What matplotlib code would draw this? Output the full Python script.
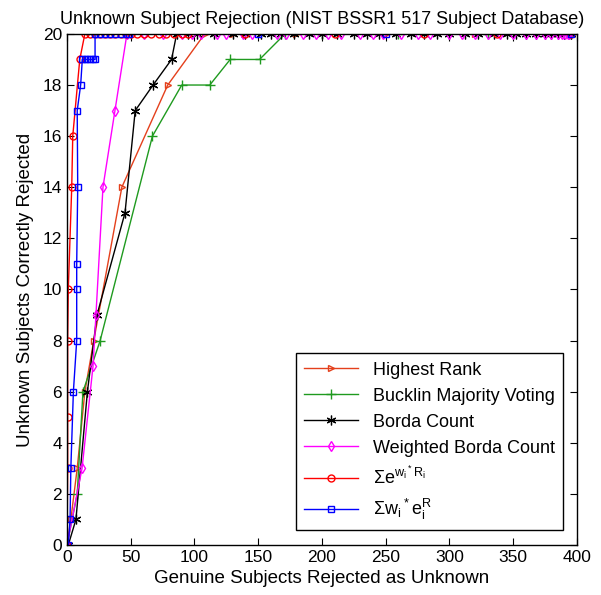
import matplotlib
matplotlib.use('Agg')
import matplotlib.pyplot as plt

plt.rcParams['font.family'] = ['Liberation Sans', 'DejaVu Sans']
plt.rcParams['mathtext.default'] = 'regular'

# x = genuine subjects rejected, y = unknown subjects correctly rejected
hr_x = [0, 3, 8, 14, 21, 43, 79, 108, 130, 180, 250, 320, 395]
hr_y = [0, 1, 3, 6, 8, 14, 18, 20, 20, 20, 20, 20, 20]

bk_x = [0, 8, 12.5, 26, 67, 90, 112, 128, 151, 171, 200, 260, 330, 395]
bk_y = [0, 2, 6, 8, 16, 18, 18, 19, 19, 20, 20, 20, 20, 20]

bc_x = [1, 7, 16, 23.5, 45.5, 53.5, 67.5, 82, 86, 95, 102, 115, 130, 140, 152,
        160, 168, 178, 190, 200, 212, 225, 235, 245, 258, 270, 280, 290, 300,
        312, 322, 335, 345, 352, 360, 368, 375, 380, 385, 390, 395]
bc_y = [0, 1, 6, 9, 13, 17, 18, 19] + [20] * 33

wb_x = [0, 11.8, 20.4, 22.7, 28.2, 37.6, 47, 60, 75, 90, 98, 105, 118, 125,
        138, 145, 165, 172, 185, 195, 205, 215, 230, 240, 248, 262, 275, 285,
        300, 310, 320, 330, 340, 350, 360, 368, 375, 380, 385, 388, 391, 393,
        394]
wb_y = [0, 3, 7, 9, 14, 17] + [20] * 37

ew_x = [0, 0.5, 0.5, 0.5, 1, 3.7, 4.5, 10, 14, 18, 22, 26, 30, 34, 38, 42, 46,
        50, 55, 60, 66, 72, 78, 84, 90, 95, 140, 210, 280, 337, 395]
ew_y = [0, 3, 5, 8, 10, 14, 16, 19] + [20] * 23

we_x = [1, 2.4, 3, 5, 7.6, 7.6, 7.6, 8.4, 8, 10.7, 12, 14, 16, 18, 20, 22, 22,
        26, 30, 34, 38, 42, 46, 49, 150, 250, 395]
we_y = [0, 1, 3, 6, 8, 10, 11, 14, 17, 18, 19, 19, 19, 19, 19, 19, 20, 20,
        20, 20, 20, 20, 20, 20, 20, 20, 20]

fig = plt.figure(figsize=(6.01, 5.95), dpi=100)
ax = fig.add_axes([0.1115, 0.084, 0.8485, 0.859])

ms = 5
asterisk = (6, 2, 0)  # MATLAB-style '*'
ax.plot(hr_x, hr_y, color='#e4401c', marker='>', ms=ms, mfc='none', lw=1,
        label='Highest Rank')
ax.plot(bk_x, bk_y, color='#1f9a1f', marker='+', ms=7, lw=1,
        label='Bucklin Majority Voting')
ax.plot(bc_x, bc_y, color='black', marker=asterisk, ms=7, mew=0.9,
        lw=1, label='Borda Count')
ax.plot(wb_x, wb_y, color='#ff00ff', marker='d', ms=ms, mfc='none', lw=1,
        label='Weighted Borda Count')
ax.plot(ew_x, ew_y, color='red', marker='o', ms=ms, mfc='none', lw=1,
        label=r'$\Sigma e^{w_i{}^*R_i}$')
ax.plot(we_x, we_y, color='blue', marker='s', ms=ms - 1, mfc='none', lw=1,
        label=r'$\Sigma w_i{}^* e_i^R$')

ax.set_xlim(0, 400)
ax.set_ylim(0, 20)
ax.set_xticks(range(0, 401, 50))
ax.set_yticks(range(0, 21, 2))
ax.tick_params(direction='in', top=True, right=True, labelsize=12.5, length=5)
for s in ax.spines.values():
    s.set_linewidth(1)

ax.set_title('Unknown Subject Rejection (NIST BSSR1 517 Subject Database)',
             fontsize=13, pad=7)
ax.set_xlabel('Genuine Subjects Rejected as Unknown', fontsize=13.5, labelpad=4)
ax.set_ylabel('Unknown Subjects Correctly Rejected', fontsize=13.5, labelpad=6)

leg = ax.legend(loc='lower right', bbox_to_anchor=(0.9725, 0.029),
                borderaxespad=0, fontsize=13,
                fancybox=False, framealpha=1, edgecolor='black',
                handlelength=3.0, borderpad=0.45, labelspacing=0.5)
leg.get_frame().set_linewidth(1)

fig.savefig('out.png', dpi=100)
